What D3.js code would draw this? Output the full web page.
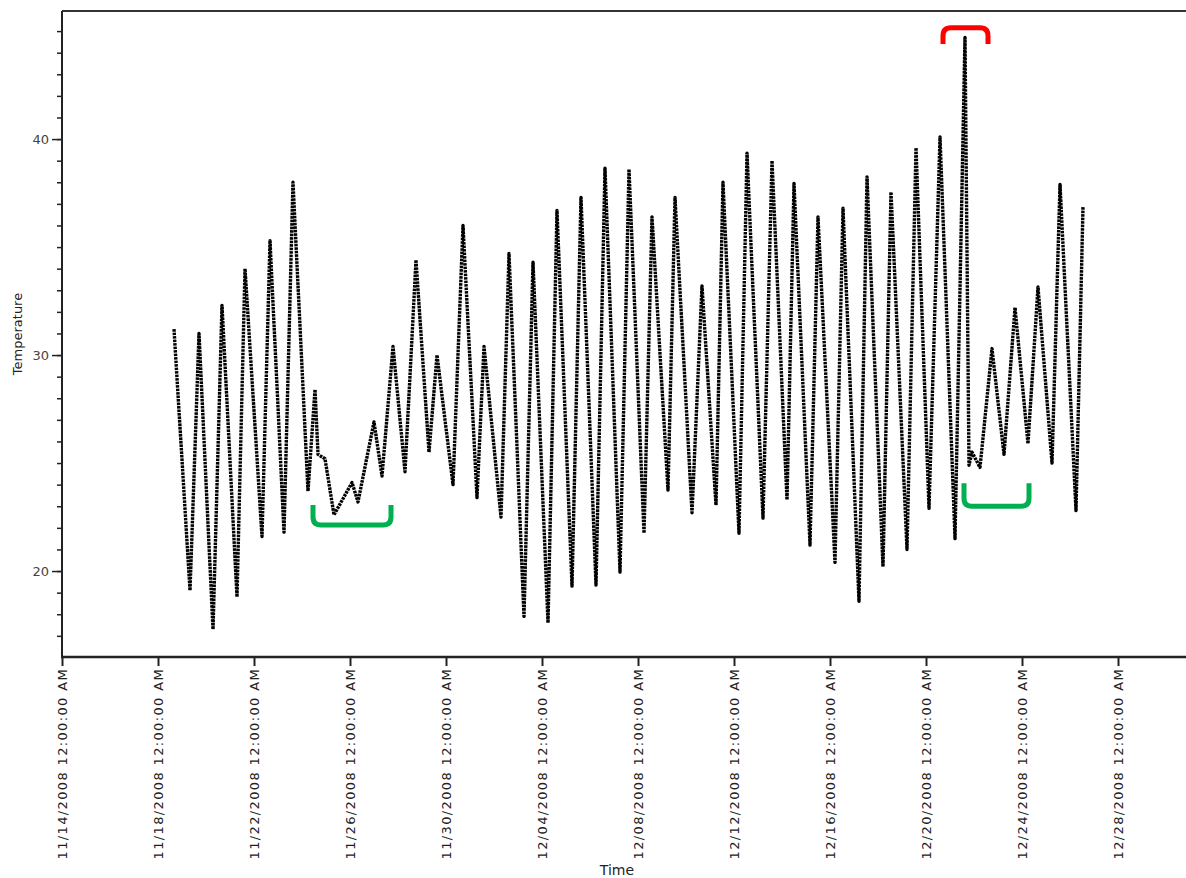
<!DOCTYPE html>
<html>
<head>
<meta charset="utf-8">
<script src="https://cdn.jsdelivr.net/npm/d3@7"></script>
<style>
  body { margin: 0; background: #fff; }
  svg { display: block; font-family: "DejaVu Sans", Verdana, sans-serif; }
</style>
</head>
<body>
<svg id="chart" width="1186" height="878"></svg>
<script>
// DATA - daily highs and lows
const times = [
  "2008-11-18 16:00", "2008-11-19 08:00", "2008-11-19 17:00", "2008-11-20 07:00",
  "2008-11-20 16:00", "2008-11-21 07:00", "2008-11-21 15:00", "2008-11-22 08:00",
  "2008-11-22 16:00", "2008-11-23 06:00", "2008-11-23 15:00", "2008-11-24 06:00",
  "2008-11-24 13:00", "2008-11-24 16:00", "2008-11-24 23:00", "2008-11-25 08:00",
  "2008-11-26 02:00", "2008-11-26 08:00", "2008-11-27 00:00", "2008-11-27 08:00",
  "2008-11-27 19:00", "2008-11-28 07:00", "2008-11-28 18:00", "2008-11-29 07:00",
  "2008-11-29 15:00", "2008-11-30 07:00", "2008-11-30 17:00", "2008-12-01 07:00",
  "2008-12-01 14:00", "2008-12-02 07:00", "2008-12-02 15:00", "2008-12-03 06:00",
  "2008-12-03 15:00", "2008-12-04 06:00", "2008-12-04 15:00", "2008-12-05 06:00",
  "2008-12-05 15:00", "2008-12-06 06:00", "2008-12-06 15:00", "2008-12-07 06:00",
  "2008-12-07 15:00", "2008-12-08 06:00", "2008-12-08 14:00", "2008-12-09 06:00",
  "2008-12-09 13:00", "2008-12-10 06:00", "2008-12-10 16:00", "2008-12-11 06:00",
  "2008-12-11 13:00", "2008-12-12 05:00", "2008-12-12 13:00", "2008-12-13 05:00",
  "2008-12-13 14:00", "2008-12-14 05:00", "2008-12-14 12:00", "2008-12-15 04:00",
  "2008-12-15 12:00", "2008-12-16 05:00", "2008-12-16 13:00", "2008-12-17 05:00",
  "2008-12-17 13:00", "2008-12-18 05:00", "2008-12-18 13:00", "2008-12-19 05:00",
  "2008-12-19 14:00", "2008-12-20 03:00", "2008-12-20 14:00", "2008-12-21 05:00",
  "2008-12-21 15:00", "2008-12-21 19:00", "2008-12-21 22:00", "2008-12-22 06:00",
  "2008-12-22 18:00", "2008-12-23 06:00", "2008-12-23 17:00", "2008-12-24 06:00",
  "2008-12-24 16:00", "2008-12-25 06:00", "2008-12-25 14:00", "2008-12-26 06:00",
  "2008-12-26 13:00"
];
const temps = [
  31.2, 19.1, 31.0, 17.3,
  32.3, 18.8, 34.0, 21.6,
  35.3, 21.8, 38.0, 23.7,
  28.4, 25.4, 25.2, 22.6,
  24.1, 23.2, 26.9, 24.4,
  30.4, 24.6, 34.4, 25.5,
  30.0, 24.0, 36.0, 23.4,
  30.4, 22.5, 34.7, 17.9,
  34.3, 17.6, 36.7, 19.3,
  37.3, 19.35, 38.65, 19.95,
  38.6, 21.75, 36.4, 23.75,
  37.3, 22.7, 33.2, 23.05,
  38.0, 21.75, 39.35, 22.45,
  39.0, 23.3, 37.95, 21.2,
  36.4, 20.4, 36.8, 18.6,
  38.25, 20.2, 37.55, 21.0,
  39.6, 22.9, 40.1, 21.5,
  44.7, 24.9, 25.5, 24.8,
  30.3, 25.4, 32.2, 25.9,
  33.15, 25.0, 37.9, 22.8,
  36.85
];

// tick labels on the time axis (every 4 days)
const timeTicks = ["2008-11-14", "2008-11-18", "2008-11-22", "2008-11-26", "2008-11-30",
  "2008-12-04", "2008-12-08", "2008-12-12", "2008-12-16", "2008-12-20", "2008-12-24", "2008-12-28"];
const tempTicks = [20, 30, 40];

// highlight brackets drawn over the chart
const bracketColors = ["#ff0000", "#00b050", "#00b050"];
const bracketStart = ["2008-12-20 17:00", "2008-11-24 11:00", "2008-12-21 14:00"];
const bracketEnd   = ["2008-12-22 14:00", "2008-11-27 17:00", "2008-12-24 07:00"];
const bracketBase  = [45.15, 22.13, 23.0];   // the flat part
const bracketTip   = [44.4, 23.06, 24.07];   // the ends of the legs

// SETUP
const parseTime = d3.timeParse("%Y-%m-%d %H:%M");
const parseDay = d3.timeParse("%Y-%m-%d");
const fmt = d3.timeFormat("%m/%d/%Y %I:%M:%S %p");

const data = times.map((t, i) => ({ t: parseTime(t), v: temps[i] }));

const svg = d3.select("#chart");
const plotLeft = 62, plotRight = 1186, plotTop = 11, plotBottom = 657;

const x = d3.scaleTime()
  .domain([parseDay("2008-11-14"), parseTime("2008-12-30 20:00")])
  .range([plotLeft, plotRight]);
const y = d3.scaleLinear()
  .domain([16.02, 45.93])
  .range([plotBottom, plotTop]);

// frame top line
svg.append("line")
  .attr("x1", plotLeft).attr("x2", plotRight)
  .attr("y1", plotTop).attr("y2", plotTop)
  .attr("stroke", "#333").attr("stroke-width", 2);

// y axis - minor ticks every degree, labels on 20/30/40
const yMinor = d3.axisLeft(y).tickValues(d3.range(17, 46)).tickSize(5).tickFormat("");
svg.append("g")
  .attr("transform", `translate(${plotLeft},0)`)
  .call(yMinor)
  .call(g => g.select(".domain").remove())
  .call(g => g.selectAll("line").attr("stroke", "#222").attr("stroke-width", 1.5));

const yAxis = d3.axisLeft(y).tickValues(tempTicks).tickSize(10).tickPadding(3).tickFormat(d3.format("d"));
svg.append("g")
  .attr("transform", `translate(${plotLeft},0)`)
  .call(yAxis)
  .call(g => g.select(".domain").remove())
  .call(g => g.selectAll("line").attr("stroke", "#222").attr("stroke-width", 1.5))
  .call(g => g.selectAll("text").attr("font-size", 13).attr("fill", "#444")
    .attr("font-family", "DejaVu Sans, sans-serif"));

svg.append("line")
  .attr("x1", plotLeft).attr("x2", plotLeft)
  .attr("y1", plotTop).attr("y2", plotBottom + 1)
  .attr("stroke", "#222").attr("stroke-width", 2);

// x axis
const xAxis = d3.axisBottom(x)
  .tickValues(timeTicks.map(parseDay))
  .tickSize(9)
  .tickFormat(fmt);
svg.append("g")
  .attr("transform", `translate(0,${plotBottom})`)
  .call(xAxis)
  .call(g => g.select(".domain").remove())
  .call(g => g.selectAll("line").attr("stroke", "#222").attr("stroke-width", 2))
  .call(g => g.selectAll("text")
    .attr("font-size", 13)
    .attr("letter-spacing", "1.35px")
    .attr("font-family", "DejaVu Sans, sans-serif")
    .attr("fill", "#222")
    .attr("text-anchor", "end")
    .attr("transform", "rotate(-90)")
    .attr("x", -11).attr("y", 0).attr("dy", "0.35em"));

svg.append("line")
  .attr("x1", plotLeft - 1).attr("x2", plotRight)
  .attr("y1", plotBottom).attr("y2", plotBottom)
  .attr("stroke", "#222").attr("stroke-width", 2.5);

// axis names
svg.append("text")
  .attr("transform", `translate(22,${(plotTop + plotBottom) / 2}) rotate(-90)`)
  .attr("text-anchor", "middle")
  .attr("font-size", 13).attr("fill", "#222")
  .text("Temperature");
svg.append("text")
  .attr("x", 617).attr("y", 875)
  .attr("text-anchor", "middle")
  .attr("font-size", 14).attr("fill", "#222")
  .text("Time");

// DRAWING - logged readings
const line = d3.line().x(d => x(d.t)).y(d => y(d.v));
svg.append("path")
  .datum(data)
  .attr("fill", "none")
  .attr("stroke", "#000")
  .attr("stroke-width", 3.4)
  .attr("stroke-linejoin", "round")
  .attr("stroke-dasharray", "2.6,0.9")
  .attr("d", line);

// brackets
bracketColors.forEach((c, i) => {
  const x0 = x(parseTime(bracketStart[i])), x1 = x(parseTime(bracketEnd[i]));
  const yb = y(bracketBase[i]), yt = y(bracketTip[i]);
  const r = Math.min(8, Math.abs(yt - yb));
  const s = yt > yb ? 1 : -1;
  const p = d3.path();
  p.moveTo(x0, yt);
  p.lineTo(x0, yb + s * r);
  p.quadraticCurveTo(x0, yb, x0 + r, yb);
  p.lineTo(x1 - r, yb);
  p.quadraticCurveTo(x1, yb, x1, yb + s * r);
  p.lineTo(x1, yt);
  svg.append("path")
    .attr("d", p.toString())
    .attr("fill", "none")
    .attr("stroke", c)
    .attr("stroke-width", 5);
});
</script>
</body>
</html>
